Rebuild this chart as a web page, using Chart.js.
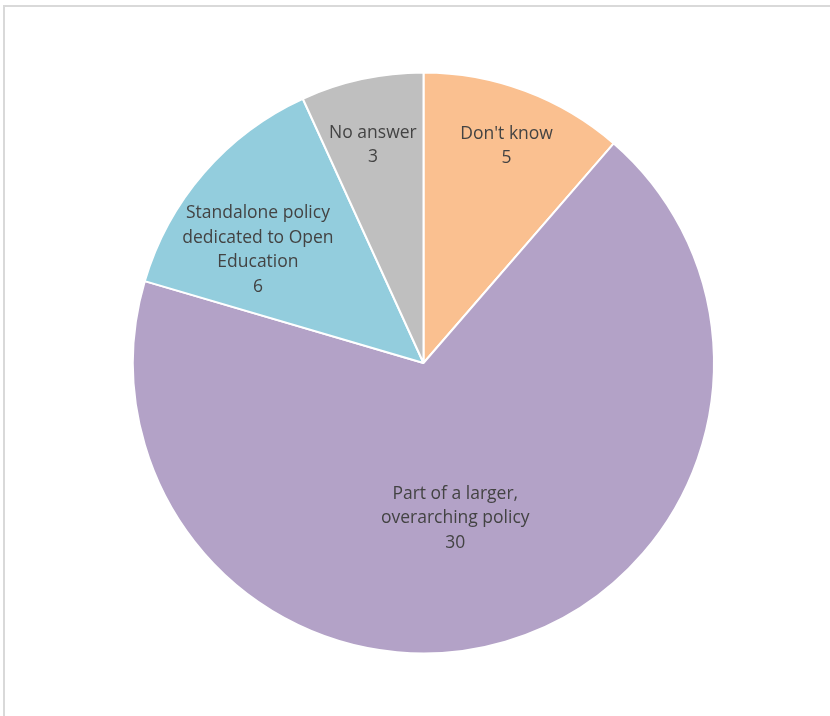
<!DOCTYPE html>
<html>
<head>
<meta charset="utf-8">
<script src="https://cdn.jsdelivr.net/npm/chart.js@4"></script>
<style>
  html, body { margin: 0; padding: 0; background: #ffffff; }
  #frame {
    position: absolute; left: 0; top: 0; width: 830px; height: 716px;
  }
  #edge {
    position: absolute; left: 3px; top: 5px; right: 0; bottom: 0;
    border-top: 2px solid #d9d9d9; border-left: 2px solid #d9d9d9;
    pointer-events: none;
  }
  canvas { position: absolute; left: 0; top: 0; }
</style>
</head>
<body>
<div id="frame">
  <canvas id="pie" width="830" height="716"></canvas>
  <div id="edge"></div>
</div>
<script>
// Survey answers, clockwise from 12 o'clock
const categories = [
  "Don't know",
  "Part of a larger, overarching policy",
  "Standalone policy dedicated to Open Education",
  "No answer"
];
const counts = [5, 30, 6, 3];

// How each category label wraps inside its slice
const labelLines = [
  ["Don't know"],
  ["Part of a larger,", "overarching policy"],
  ["Standalone policy", "dedicated to Open", "Education"],
  ["No answer"]
];

const sliceColors = ["#FAC090", "#B3A2C7", "#93CDDD", "#BFBFBF"];

// Label anchor: fraction of the radius and angular nudge (degrees) from the slice's mid-angle
const labelRadius = [0.80, 0.545, 0.69, 0.77];
const labelNudge = [0.5, 4.8, -6.6, -0.8];

const sliceLabels = {
  id: 'sliceLabels',
  afterDatasetsDraw(chart) {
    const ctx = chart.ctx;
    const meta = chart.getDatasetMeta(0);
    const values = chart.data.datasets[0].data;
    ctx.save();
    ctx.font = '17.5px "Open Sans", sans-serif';
    ctx.fillStyle = '#434343';
    ctx.textAlign = 'center';
    ctx.textBaseline = 'middle';
    const lh = 24.5;
    meta.data.forEach((arc, i) => {
      const p = arc.getProps(['x', 'y', 'startAngle', 'endAngle', 'outerRadius'], true);
      const mid = (p.startAngle + p.endAngle) / 2 + labelNudge[i] * Math.PI / 180;
      const r = p.outerRadius * labelRadius[i];
      const cx = p.x + Math.cos(mid) * r;
      const cy = p.y + Math.sin(mid) * r;
      const lines = labelLines[i].concat([String(values[i])]);
      const top = cy - (lines.length - 1) * lh / 2;
      lines.forEach((t, k) => ctx.fillText(t, cx, top + k * lh));
    });
    ctx.restore();
  }
};

new Chart(document.getElementById('pie'), {
  type: 'pie',
  data: {
    labels: categories,
    datasets: [{
      data: counts,
      backgroundColor: sliceColors,
      borderColor: '#ffffff',
      borderWidth: 2
    }]
  },
  options: {
    responsive: false,
    animation: false,
    layout: { padding: { left: 132, right: 115, top: 71, bottom: 61 } },
    plugins: {
      legend: { display: false },
      tooltip: { enabled: false }
    }
  },
  plugins: [sliceLabels]
});
</script>
</body>
</html>
